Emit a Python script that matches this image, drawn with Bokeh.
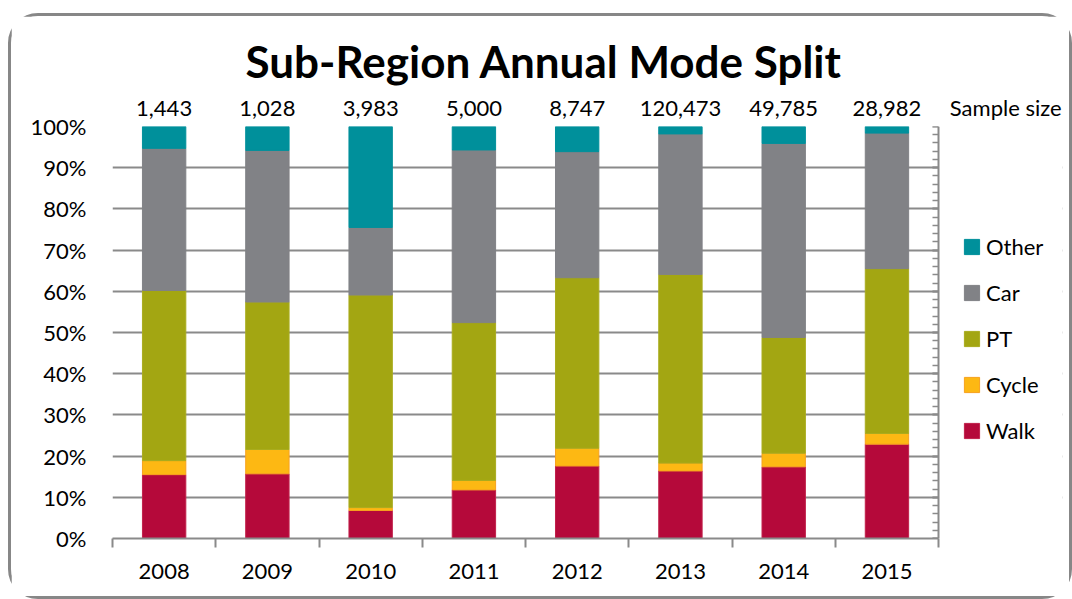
from bokeh.plotting import figure
from bokeh.models import (Range1d, FixedTicker, LinearAxis, Legend, LegendItem, Title,
                          CustomLabelingPolicy, BoxAnnotation)
from bokeh.embed import file_html
from bokeh.resources import INLINE

# ---- data ----
years = ["2008", "2009", "2010", "2011", "2012", "2013", "2014", "2015"]
sample_sizes = ["1,443", "1,028", "3,983", "5,000", "8,747", "120,473", "49,785", "28,982"]
walk = [15.5, 15.7, 6.8, 11.8, 17.6, 16.4, 17.4, 22.9]
cycle = [3.4, 5.9, 0.7, 2.3, 4.3, 1.9, 3.3, 2.6]
pt = [41.3, 35.8, 51.6, 38.3, 41.4, 45.8, 28.1, 40.0]
car = [34.5, 36.8, 16.4, 41.9, 30.6, 34.1, 47.1, 32.9]
other = [5.3, 5.8, 24.5, 5.7, 6.1, 1.8, 4.1, 1.6]
y_ticks = [0, 10, 20, 30, 40, 50, 60, 70, 80, 90, 100]

modes = ["Walk", "Cycle", "PT", "Car", "Other"]
fills = ["#B5093A", "#FDB813", "#A3A612", "#818286", "#00909B"]
lines = ["#C0204A", "#F7A11E", "#A9AC1E", "#818286", "#00909B"]

FONT = "Lato"
GRAY = "#8a8a8a"

n = len(years)
x_end = n + 1.2          # extra room on the right for caption and legend
caption_x = n + 0.65     # where the "Sample size" caption sits
xc = [i + 0.5 for i in range(n)]
data = dict(x=xc, Walk=walk, Cycle=cycle, PT=pt, Car=car, Other=other)

p = figure(width=1064, height=586, output_backend="svg", toolbar_location=None, title=None,
           x_range=Range1d(0, x_end), y_range=Range1d(0, 100),
           min_border_left=101, min_border_right=13, min_border_top=110, min_border_bottom=64,
           x_axis_location=None, y_axis_location=None)
p.outline_line_color = None
p.background_fill_color = "white"
p.border_fill_color = "white"
p.styles = {"border": "3px solid #878787", "border-radius": "30px",
            "margin-top": "13px", "margin-left": "8px", "box-sizing": "border-box"}

# grid
p.ygrid.ticker = FixedTicker(ticks=y_ticks)
p.ygrid.grid_line_color = GRAY
p.ygrid.grid_line_width = 2
p.xgrid.grid_line_color = None
# blank the grid to the right of the plotting area
p.add_layout(BoxAnnotation(left=n, fill_color="white", fill_alpha=1, line_color=None,
                           level="underlay"))

rs = p.vbar_stack(modes, x="x", width=0.42, source=data,
                  fill_color=fills, line_color=lines, line_width=1)

# bottom axis: labels at centers, boundary ticks as minor ticks
xa = LinearAxis(ticker=FixedTicker(ticks=xc, minor_ticks=list(range(n + 1))), bounds=(0, n))
xa.major_label_overrides = {c: y for c, y in zip(xc, years)}
xa.major_tick_line_color = None
xa.major_tick_out = 9
xa.major_tick_in = 0
xa.minor_tick_out = 9
xa.minor_tick_in = 0
xa.minor_tick_line_color = GRAY
xa.minor_tick_line_width = 2
xa.axis_line_color = GRAY
xa.axis_line_width = 2
xa.major_label_text_font = FONT
xa.major_label_text_font_size = "22px"
xa.major_label_text_color = "black"
xa.major_label_standoff = 16
p.add_layout(xa, "below")

# top axis: sample sizes + caption
top_ticks = xc + [caption_x]
top_labels = sample_sizes + ["Sample size"]
ta = LinearAxis(ticker=FixedTicker(ticks=top_ticks))
ta.major_label_overrides = {c: s for c, s in zip(top_ticks, top_labels)}
ta.axis_line_color = None
ta.major_tick_line_color = None
ta.minor_tick_line_color = None
ta.major_tick_out = 0
ta.major_tick_in = 0
ta.major_label_text_font = FONT
ta.major_label_text_font_size = "22px"
ta.major_label_text_color = "black"
ta.major_label_standoff = 6
p.add_layout(ta, "above")

# main title
mt = Title(text="Sub-Region Annual Mode Split", align="left", offset=133, standoff=8,
           text_font=FONT, text_font_size="44px", text_font_style="bold", text_color="black")
p.add_layout(mt, "above")

# left axis
ya = LinearAxis(ticker=FixedTicker(ticks=y_ticks))
ya.major_label_overrides = {t: f"{t}%" for t in y_ticks}
ya.axis_line_color = None
ya.major_tick_line_color = None
ya.minor_tick_line_color = None
ya.major_tick_out = 0
ya.major_tick_in = 0
ya.major_label_text_font = FONT
ya.major_label_text_font_size = "22px"
ya.major_label_text_color = "black"
ya.major_label_standoff = 26
p.add_layout(ya, "left")

# secondary vertical axis at the right end of the bars area, minor ticks, no labels
ra = LinearAxis(ticker=FixedTicker(ticks=y_ticks, minor_ticks=list(range(0, 101, 2))),
                fixed_location=n)
ra.major_label_policy = CustomLabelingPolicy(
    code="for (const i of indices) { indices.unset(i) }\nreturn indices")
ra.axis_line_color = GRAY
ra.axis_line_width = 2
ra.major_tick_line_color = GRAY
ra.major_tick_line_width = 2
ra.major_tick_in = 6
ra.major_tick_out = 0
ra.minor_tick_line_color = GRAY
ra.minor_tick_line_width = 1.5
ra.minor_tick_in = 6
ra.minor_tick_out = 0
p.add_layout(ra, "right")

# legend inside the frame, to the right of the bars
items = [LegendItem(label=m, renderers=[r]) for m, r in zip(modes, rs)][::-1]
leg = Legend(items=items, location=(850, 94), orientation="vertical",
             padding=0, margin=0, border_line_color=None, background_fill_alpha=0,
             glyph_width=19, glyph_height=19, label_height=26, spacing=19,
             label_standoff=5, label_text_font=FONT, label_text_font_size="22px",
             label_text_color="black")
p.add_layout(leg, "center")

open("out.html", "w").write(file_html(p, INLINE))
